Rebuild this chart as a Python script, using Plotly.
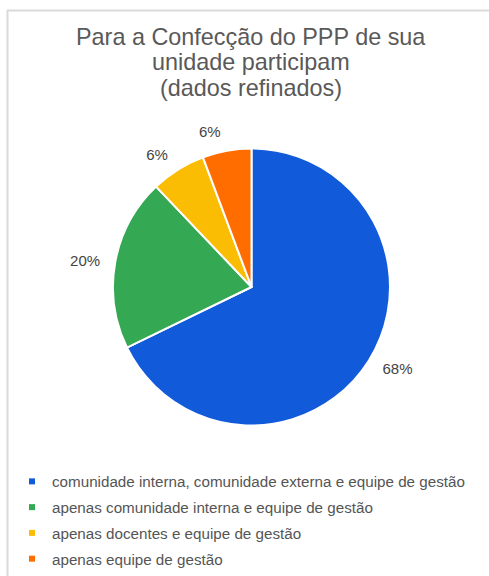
import plotly.graph_objects as go

W, H = 489, 576

categories = [
    "comunidade interna, comunidade externa e equipe de gestão",
    "apenas comunidade interna e equipe de gestão",
    "apenas docentes e equipe de gestão",
    "apenas equipe de gestão",
]
values = [67.8, 20.1, 6.4, 5.7]
colors = ["#115ad9", "#34a853", "#fbbc04", "#ff6d01"]
title_lines = ["Para a Confecção do PPP de sua", "unidade participam", "(dados refinados)"]

FONT = "Liberation Sans, Arial, sans-serif"

cx, cy, r = 251.5, 287.0, 138.5
r_lab = r + 11

fig = go.Figure()

# visible pie
fig.add_trace(go.Pie(
    labels=categories,
    values=values,
    sort=False,
    direction="clockwise",
    rotation=0,
    marker=dict(colors=colors, line=dict(color="white", width=2)),
    textinfo="none",
    showlegend=False,
    domain=dict(x=[(cx - r) / W, (cx + r) / W], y=[1 - (cy + r) / H, 1 - (cy - r) / H]),
    hoverinfo="label+percent",
))

# transparent, slightly larger pie carrying the outside percentage labels
fig.add_trace(go.Pie(
    labels=categories,
    values=values,
    sort=False,
    direction="clockwise",
    rotation=0,
    marker=dict(colors=["rgba(0,0,0,0)"] * len(values), line=dict(width=0)),
    textposition="outside",
    texttemplate="%{percent:.0%}",
    textfont=dict(family=FONT, size=15, color="#444444"),
    showlegend=False,
    domain=dict(x=[(cx - r_lab) / W, (cx + r_lab) / W], y=[1 - (cy + r_lab) / H, 1 - (cy - r_lab) / H]),
    hoverinfo="skip",
))

for i, (name, c) in enumerate(zip(categories, colors)):
    fig.add_trace(go.Scatter(
        x=[None], y=[None], mode="markers", name=name,
        legendgroup=f"g{i}",
        marker=dict(symbol="square", size=6, color=c),
        showlegend=True,
    ))

title_y = [37, 62.5, 88]
annotations = [
    dict(text=t, x=251 / W, y=1 - yy / H, xref="paper", yref="paper",
         xanchor="center", yanchor="middle", showarrow=False,
         font=dict(family=FONT, size=23.4, color="#595959"))
    for t, yy in zip(title_lines, title_y)
]

fig.update_layout(
    width=W, height=H,
    margin=dict(l=0, r=0, t=0, b=0, autoexpand=False),
    paper_bgcolor="white",
    plot_bgcolor="white",
    xaxis=dict(visible=False),
    yaxis=dict(visible=False),
    annotations=annotations,
    legend=dict(
        x=12 / W, xanchor="left",
        y=1 - 465 / H, yanchor="top",
        font=dict(family=FONT, size=15.2, color="#555555"),
        itemsizing="trace",
        bgcolor="rgba(0,0,0,0)",
        tracegroupgap=3,
    ),
    shapes=[
        dict(type="line", xref="paper", yref="paper",
             x0=7 / W, x1=1, y0=1 - 10.5 / H, y1=1 - 10.5 / H,
             line=dict(color="#dadada", width=2)),
        dict(type="line", xref="paper", yref="paper",
             x0=7.5 / W, x1=7.5 / W, y0=1 - 10 / H, y1=0,
             line=dict(color="#dadada", width=2)),
    ],
)

fig.write_html("out.html", config={"displayModeBar": False})
